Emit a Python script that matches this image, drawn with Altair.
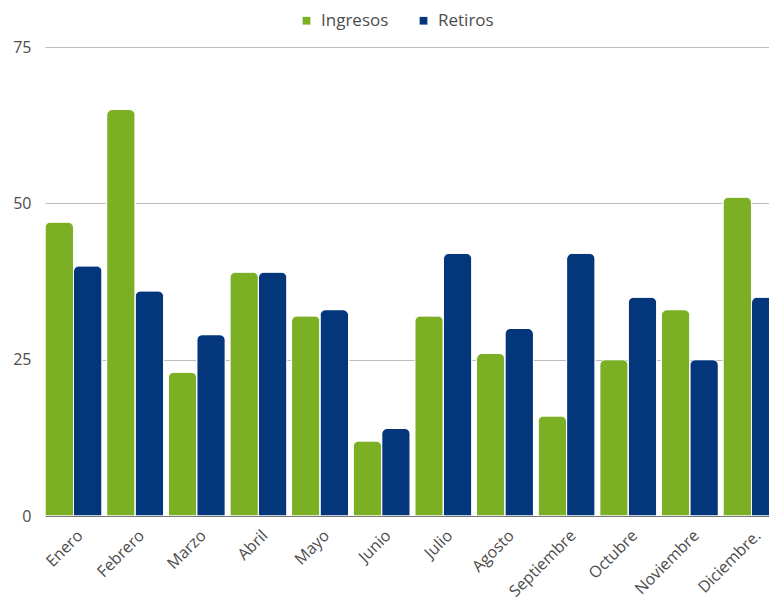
import altair as alt
import pandas as pd

meses = ["Enero", "Febrero", "Marzo", "Abril", "Mayo", "Junio", "Julio",
         "Agosto", "Septiembre", "Octubre", "Noviembre", "Diciembre."]
ingresos = [47, 65, 23, 39, 32, 12, 32, 26, 16, 25, 33, 51]
retiros = [40, 36, 29, 39, 33, 14, 42, 30, 42, 35, 25, 35]
series = ["Ingresos", "Retiros"]
colores = ["#7bb024", "#03367a"]
ticks_y = [0, 25, 50, 75]

rows = []
for m, a, b in zip(meses, ingresos, retiros):
    rows.append({"mes": m, "serie": series[0], "valor": a})
    rows.append({"mes": m, "serie": series[1], "valor": b})
df = pd.DataFrame(rows)

FONT = "Open Sans"

chart = alt.Chart(df).mark_bar(
    cornerRadiusTopLeft=6, cornerRadiusTopRight=6,
    stroke="white", strokeWidth=1
).encode(
    x=alt.X("mes:N", sort=meses,
            scale=alt.Scale(paddingInner=0.075, paddingOuter=0, range=[0, 735]),
            axis=alt.Axis(title=None, labelAngle=-45, labelFontSize=16,
                          labelColor="#4d4d4d", labelFont=FONT, ticks=False,
                          labelAlign="right", labelBaseline="top",
                          domain=True, domainColor="#777777", domainWidth=1,
                          labelPadding=11, labelOffset=1, zindex=1)),
    xOffset=alt.XOffset("serie:N", sort=series,
                        scale=alt.Scale(paddingInner=0, paddingOuter=0)),
    y=alt.Y("valor:Q", scale=alt.Scale(domain=[0, 75], nice=False),
            axis=alt.Axis(values=ticks_y, title=None, domain=False, ticks=False,
                          labelPadding=14, gridColor="#bdbdbd", gridWidth=1.2,
                          labelFontSize=16, labelColor="#4d4d4d", labelFont=FONT)),
    color=alt.Color("serie:N", sort=series,
                    scale=alt.Scale(domain=series, range=colores),
                    legend=alt.Legend(title=None, orient="none", direction="horizontal",
                                      legendX=253, legendY=-35, symbolType="square",
                                      symbolSize=60, symbolStrokeWidth=0,
                                      labelFontSize=17, labelFont=FONT,
                                      labelColor="#4d4d4d", columnPadding=26,
                                      labelOffset=6)),
).properties(
    width=724, height=469, autosize="none",
    padding={"left": 37, "top": 39, "right": 0, "bottom": 86}
).configure_view(stroke=None)

chart.save("out.html", embed_options={"renderer": "svg", "actions": False})
